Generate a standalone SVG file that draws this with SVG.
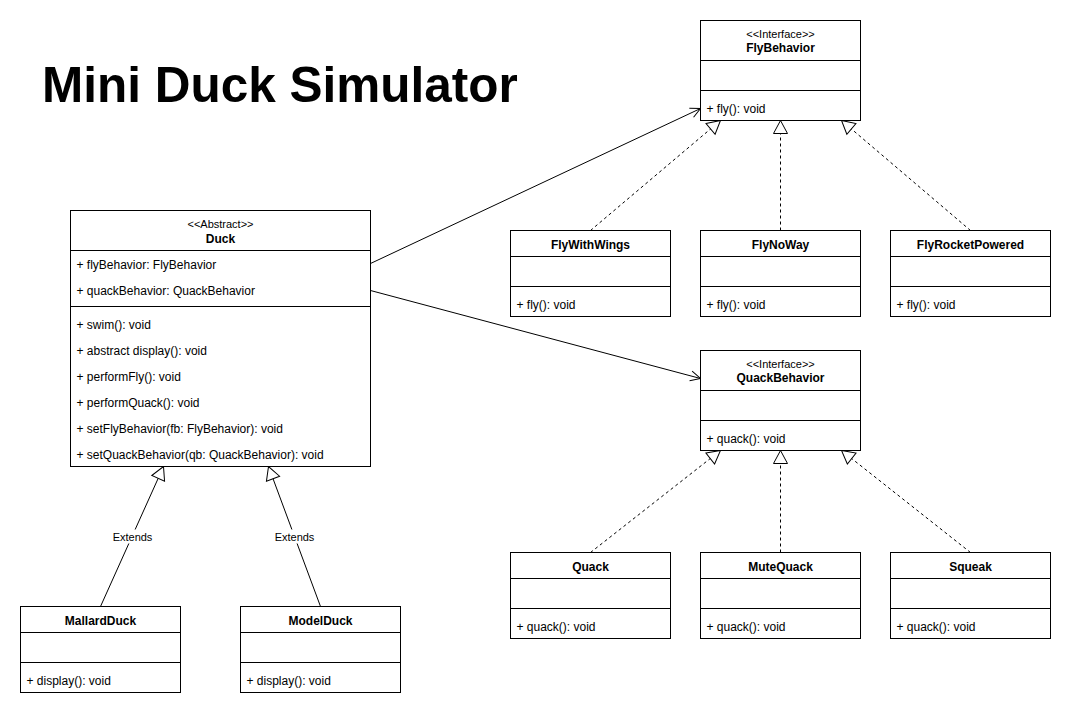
<svg xmlns="http://www.w3.org/2000/svg" width="1071" height="716" viewBox="0 0 1071 716">
<style>
.box{fill:#fff;stroke:#000;stroke-width:1}
.sep{stroke:#000;stroke-width:1}
text{font-family:"Liberation Sans",Arial,Helvetica,sans-serif;fill:#000}
.t{font-size:12px}
.b{font-size:12px;font-weight:bold;text-anchor:middle}
.st{font-size:11px;text-anchor:middle}
.lbl{font-size:11px;text-anchor:middle}
.title{font-size:49.5px;font-weight:bold}
.assoc{stroke:#000;stroke-width:1;fill:none}
.dash{stroke:#000;stroke-width:1;fill:none;stroke-dasharray:3 3}
</style>
<defs>
<marker id="open" markerUnits="userSpaceOnUse" markerWidth="12" markerHeight="12" refX="10" refY="5" orient="auto" overflow="visible">
<path d="M0,0 L10,5 L0,10" fill="none" stroke="#000" stroke-width="1"/>
</marker>
<marker id="tri" markerUnits="userSpaceOnUse" markerWidth="15" markerHeight="15" refX="13" refY="7" orient="auto" overflow="visible">
<path d="M0,0 L13,7 L0,14 Z" fill="#fff" stroke="#000" stroke-width="1"/>
</marker>
</defs>
<rect width="1071" height="716" fill="#fff"/>
<text class="title" x="42" y="102">Mini Duck Simulator</text>

<g transform="translate(0.5,0.5)">
<g id="connectors">
<path class="assoc" d="M370,263 L700,108" marker-end="url(#open)"/>
<path class="assoc" d="M370,290 L700,378" marker-end="url(#open)"/>
<path class="dash" d="M590,230 L720,120" marker-end="url(#tri)"/>
<path class="dash" d="M780,230 L780,120" marker-end="url(#tri)"/>
<path class="dash" d="M970,230 L841,120" marker-end="url(#tri)"/>
<path class="dash" d="M590,552 L720,450" marker-end="url(#tri)"/>
<path class="dash" d="M780,552 L780,450" marker-end="url(#tri)"/>
<path class="dash" d="M970,552 L841,450" marker-end="url(#tri)"/>
<path class="assoc" d="M100,606 L163,466" marker-end="url(#tri)"/>
<path class="assoc" d="M320,606 L268,466" marker-end="url(#tri)"/>
<rect x="111" y="529" width="42" height="14" fill="#fff"/>
<text class="lbl" x="132" y="540">Extends</text>
<rect x="273" y="529" width="42" height="14" fill="#fff"/>
<text class="lbl" x="294" y="540">Extends</text>
</g>

<g id="Duck">
<rect class="box" x="70" y="210" width="300" height="256"/>
<line class="sep" x1="70" y1="250" x2="370" y2="250"/>
<line class="sep" x1="70" y1="306" x2="370" y2="306"/>
<text class="st" x="220" y="227">&lt;&lt;Abstract&gt;&gt;</text>
<text class="b" x="220" y="242">Duck</text>
<text class="t" x="76" y="268">+ flyBehavior: FlyBehavior</text>
<text class="t" x="76" y="294">+ quackBehavior: QuackBehavior</text>
<text class="t" x="76" y="328">+ swim(): void</text>
<text class="t" x="76" y="354">+ abstract display(): void</text>
<text class="t" x="76" y="380">+ performFly(): void</text>
<text class="t" x="76" y="406">+ performQuack(): void</text>
<text class="t" x="76" y="432">+ setFlyBehavior(fb: FlyBehavior): void</text>
<text class="t" x="76" y="458">+ setQuackBehavior(qb: QuackBehavior): void</text>
</g>

<g id="FlyBehavior">
<rect class="box" x="700" y="20" width="160" height="100"/>
<line class="sep" x1="700" y1="60" x2="860" y2="60"/>
<line class="sep" x1="700" y1="90" x2="860" y2="90"/>
<text class="st" x="780" y="37">&lt;&lt;Interface&gt;&gt;</text>
<text class="b" x="780" y="51">FlyBehavior</text>
<text class="t" x="706" y="112">+ fly(): void</text>
</g>

<g id="FlyWithWings">
<rect class="box" x="510" y="230" width="160" height="86"/>
<line class="sep" x1="510" y1="256" x2="670" y2="256"/>
<line class="sep" x1="510" y1="286" x2="670" y2="286"/>
<text class="b" x="590" y="248">FlyWithWings</text>
<text class="t" x="516" y="308">+ fly(): void</text>
</g>

<g id="FlyNoWay">
<rect class="box" x="700" y="230" width="160" height="86"/>
<line class="sep" x1="700" y1="256" x2="860" y2="256"/>
<line class="sep" x1="700" y1="286" x2="860" y2="286"/>
<text class="b" x="780" y="248">FlyNoWay</text>
<text class="t" x="706" y="308">+ fly(): void</text>
</g>

<g id="FlyRocketPowered">
<rect class="box" x="890" y="230" width="160" height="86"/>
<line class="sep" x1="890" y1="256" x2="1050" y2="256"/>
<line class="sep" x1="890" y1="286" x2="1050" y2="286"/>
<text class="b" x="970" y="248">FlyRocketPowered</text>
<text class="t" x="896" y="308">+ fly(): void</text>
</g>

<g id="QuackBehavior">
<rect class="box" x="700" y="350" width="160" height="100"/>
<line class="sep" x1="700" y1="390" x2="860" y2="390"/>
<line class="sep" x1="700" y1="420" x2="860" y2="420"/>
<text class="st" x="780" y="367">&lt;&lt;Interface&gt;&gt;</text>
<text class="b" x="780" y="381">QuackBehavior</text>
<text class="t" x="706" y="442">+ quack(): void</text>
</g>

<g id="Quack">
<rect class="box" x="510" y="552" width="160" height="86"/>
<line class="sep" x1="510" y1="578" x2="670" y2="578"/>
<line class="sep" x1="510" y1="608" x2="670" y2="608"/>
<text class="b" x="590" y="570">Quack</text>
<text class="t" x="516" y="630">+ quack(): void</text>
</g>

<g id="MuteQuack">
<rect class="box" x="700" y="552" width="160" height="86"/>
<line class="sep" x1="700" y1="578" x2="860" y2="578"/>
<line class="sep" x1="700" y1="608" x2="860" y2="608"/>
<text class="b" x="780" y="570">MuteQuack</text>
<text class="t" x="706" y="630">+ quack(): void</text>
</g>

<g id="Squeak">
<rect class="box" x="890" y="552" width="160" height="86"/>
<line class="sep" x1="890" y1="578" x2="1050" y2="578"/>
<line class="sep" x1="890" y1="608" x2="1050" y2="608"/>
<text class="b" x="970" y="570">Squeak</text>
<text class="t" x="896" y="630">+ quack(): void</text>
</g>

<g id="MallardDuck">
<rect class="box" x="20" y="606" width="160" height="86"/>
<line class="sep" x1="20" y1="632" x2="180" y2="632"/>
<line class="sep" x1="20" y1="662" x2="180" y2="662"/>
<text class="b" x="100" y="624">MallardDuck</text>
<text class="t" x="26" y="684">+ display(): void</text>
</g>

<g id="ModelDuck">
<rect class="box" x="240" y="606" width="160" height="86"/>
<line class="sep" x1="240" y1="632" x2="400" y2="632"/>
<line class="sep" x1="240" y1="662" x2="400" y2="662"/>
<text class="b" x="320" y="624">ModelDuck</text>
<text class="t" x="246" y="684">+ display(): void</text>
</g>
</g>
</svg>
